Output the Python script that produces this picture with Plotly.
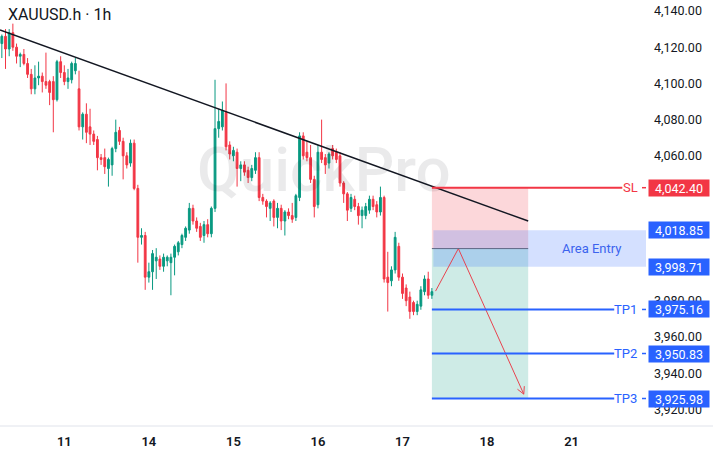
import math
import plotly.graph_objects as go

# ---------------- data ----------------
opens = [4122, 4126, 4119, 4128, 4120, 4115, 4116, 4111, 4105, 4097,
         4103, 4104, 4101, 4101, 4101, 4091, 4112, 4106, 4101, 4102,
         4107, 4097, 4076, 4083, 4076, 4072, 4069, 4059, 4059, 4053,
         4055, 4064, 4074, 4068, 4060, 4056, 4067, 4042, 4015, 4016,
         3993, 3996, 4002, 4003, 3999, 4002, 4001, 4004, 4007, 4011,
         4015, 4019, 4031, 4024, 4021, 4016, 4022, 4017, 4031, 4075,
         4076, 4084, 4066, 4060, 4062, 4053, 4055, 4052, 4048, 4052,
         4059, 4037, 4035, 4031, 4035, 4026, 4031, 4024, 4029, 4027,
         4026, 4037, 4071, 4062, 4059, 4047, 4033, 4062, 4059, 4056,
         4064, 4062, 4060, 4045, 4039, 4031, 4036, 4032, 4027, 4027,
         4030, 4036, 4033, 4029, 4037, 3993, 3991, 3997, 4010, 3993,
         3987, 3982, 3979, 3974, 3977, 3985, 3992, 3983]
highs = [4127, 4130, 4130, 4133, 4122, 4117, 4119, 4114, 4108, 4110,
         4112, 4106, 4117, 4102, 4104, 4113, 4115, 4110, 4108, 4112,
         4114, 4107, 4084, 4089, 4086, 4074, 4071, 4061, 4064, 4059,
         4065, 4080, 4076, 4070, 4062, 4069, 4069, 4044, 4020, 4018,
         4001, 4008, 4009, 4005, 4006, 4005, 4006, 4011, 4013, 4017,
         4021, 4034, 4033, 4026, 4023, 4024, 4025, 4032, 4102, 4086,
         4090, 4100, 4068, 4065, 4064, 4057, 4057, 4054, 4055, 4062,
         4062, 4039, 4036, 4035, 4036, 4034, 4033, 4030, 4031, 4034,
         4039, 4073, 4073, 4068, 4066, 4049, 4066, 4080, 4061, 4062,
         4066, 4064, 4062, 4046, 4040, 4039, 4038, 4034, 4032, 4034,
         4038, 4038, 4035, 4043, 4038, 4007, 3999, 4018, 4012, 3995,
         3989, 3985, 3980, 3980, 3988, 3994, 3996, 3987]
lows = [4114, 4108, 4115, 4118, 4111, 4109, 4110, 4103, 4094, 4094,
        4099, 4095, 4097, 4088, 4073, 4090, 4103, 4099, 4097, 4100,
        4105, 4074, 4069, 4067, 4066, 4066, 4052, 4055, 4050, 4043,
        4049, 4062, 4066, 4047, 4053, 4054, 4041, 4001, 4011, 3986,
        3990, 3986, 3992, 3997, 3996, 3999, 3983, 3994, 4005, 4009,
        4013, 4017, 4022, 4018, 4013, 4012, 4015, 4015, 4029, 4070,
        4074, 4063, 4058, 4057, 4043, 4046, 4049, 4045, 4046, 4050,
        4035, 4033, 4026, 4024, 4021, 4020, 4019, 4016, 4025, 4023,
        4024, 4035, 4058, 4057, 4045, 4026, 4031, 4056, 4050, 4053,
        4058, 4056, 4043, 4034, 4024, 4029, 4030, 4022, 4020, 4025,
        4028, 4030, 4026, 4027, 3990, 3974, 3988, 3995, 3991, 3981,
        3977, 3970, 3972, 3972, 3975, 3983, 3981, 3981]
closes = [4126, 4119, 4128, 4120, 4115, 4116, 4111, 4105, 4097, 4103,
          4104, 4101, 4099, 4095, 4091, 4112, 4106, 4101, 4103, 4111,
          4111, 4076, 4083, 4073, 4072, 4068, 4059, 4058, 4054, 4058,
          4064, 4073, 4068, 4060, 4055, 4067, 4042, 4015, 4016, 3993,
          3996, 4006, 4004, 3999, 4004, 4004, 4004, 4010, 4012, 4016,
          4020, 4031, 4024, 4020, 4015, 4022, 4017, 4031, 4075, 4079,
          4085, 4065, 4061, 4063, 4053, 4055, 4051, 4048, 4053, 4059,
          4037, 4035, 4032, 4034, 4026, 4031, 4024, 4029, 4027, 4025,
          4038, 4071, 4060, 4059, 4047, 4032, 4062, 4058, 4055, 4061,
          4060, 4058, 4045, 4039, 4030, 4037, 4032, 4027, 4030, 4032,
          4036, 4032, 4029, 4037, 3992, 3990, 3997, 4015, 3993, 3984,
          3980, 3974, 3974, 3978, 3986, 3992, 3983, 3985]
bars = list(range(len(opens)))

day_ticks = [17, 40, 63, 86, 109, 132, 155]
day_labels = ["11", "14", "15", "16", "17", "18", "21"]

price_ticks = [4140, 4120, 4100, 4080, 4060, 3980, 3960, 3940, 3920]

sl_price = 4042.40
entry_hi = 4018.85
entry_lo = 3998.71
entry_mid = (entry_hi + entry_lo) / 2
tp_names = ["TP1", "TP2", "TP3"]
tp_prices = [3975.16, 3950.83, 3925.98]

trend_x = [-0.5, 143.2]
trend_y = [4129.5, 4024.0]

path_x = [118.0, 124.2, 142.0]
path_y = [3985.3, entry_mid, 3928.4]

# ---------------- layout constants ----------------
W, H = 713, 455
ML, MR, MT, MB = 0, 67, 0, 29
PW, PH = W - ML - MR, H - MT - MB
X_MIN, X_MAX = -0.5, 175.25
Y_MIN, Y_MAX = 3910.8, 4146.06
px_bar = PW / (X_MAX - X_MIN)
px_price = PH / (Y_MAX - Y_MIN)

box_x0, box_x1 = 117.0, 143.2
band_x0 = 117.4
sl_line_end = 168.8
tp_line_end = 166.6

RED = "#f23645"
BLUE = "#2962ff"
GREEN = "#089981"
TXT = "#131722"
FONT = "Roboto"

fig = go.Figure()

# watermark (behind candles)
fig.add_trace(go.Scatter(
    x=[87.6], y=[4049.4], mode="text", text=["QuickPro"],
    textfont=dict(family=FONT, size=62, color="rgba(19,23,34,0.09)", weight=500),
    hoverinfo="skip", showlegend=False))

fig.add_trace(go.Candlestick(
    x=bars, open=opens, high=highs, low=lows, close=closes,
    increasing=dict(line=dict(color=GREEN, width=1), fillcolor=GREEN),
    decreasing=dict(line=dict(color=RED, width=1), fillcolor=RED),
    whiskerwidth=0, hoverinfo="skip", showlegend=False))

# trend line
fig.add_trace(go.Scatter(x=trend_x, y=trend_y, mode="lines",
                         line=dict(color=TXT, width=1.5),
                         hoverinfo="skip", showlegend=False))

# projected path
fig.add_trace(go.Scatter(x=path_x, y=path_y, mode="lines",
                         line=dict(color="#e8434f", width=1),
                         hoverinfo="skip", showlegend=False))
# arrowhead (open V) computed in pixel space
dx = (path_x[-1] - path_x[-2]) * px_bar
dy = (path_y[-1] - path_y[-2]) * px_price
L = math.hypot(dx, dy)
bx, by = -dx / L, -dy / L
for ang in (math.radians(28), -math.radians(28)):
    rx = bx * math.cos(ang) - by * math.sin(ang)
    ry = bx * math.sin(ang) + by * math.cos(ang)
    fig.add_trace(go.Scatter(
        x=[path_x[-1] + rx * 8 / px_bar, path_x[-1]],
        y=[path_y[-1] + ry * 8 / px_price, path_y[-1]],
        mode="lines", line=dict(color="#e8434f", width=1),
        hoverinfo="skip", showlegend=False))

shapes = []
# risk (pink) and reward (green) zones
shapes.append(dict(type="rect", xref="x", yref="y", x0=box_x0, x1=box_x1,
                   y0=entry_mid, y1=sl_price, fillcolor="rgba(242,54,69,0.2)",
                   line=dict(width=0), layer="below"))
shapes.append(dict(type="rect", xref="x", yref="y", x0=box_x0, x1=box_x1,
                   y0=tp_prices[-1], y1=entry_mid, fillcolor="rgba(8,153,129,0.2)",
                   line=dict(width=0), layer="below"))
# entry band
shapes.append(dict(type="rect", xref="x", yref="y", x0=band_x0, x1=X_MAX,
                   y0=entry_lo, y1=entry_hi, fillcolor="rgba(41,98,255,0.2)",
                   line=dict(width=0), layer="below"))
# entry line
shapes.append(dict(type="line", xref="x", yref="y", x0=box_x0, x1=box_x1,
                   y0=entry_mid, y1=entry_mid, line=dict(color="#5f6785", width=1)))
# SL line
shapes.append(dict(type="line", xref="x", yref="y", x0=box_x0, x1=sl_line_end,
                   y0=sl_price, y1=sl_price, line=dict(color=RED, width=2)))
shapes.append(dict(type="line", xref="paper", yref="y", x0=642 / PW, x1=1.0,
                   y0=sl_price, y1=sl_price, line=dict(color=RED, width=1.5)))
for p in tp_prices:
    shapes.append(dict(type="line", xref="x", yref="y", x0=box_x0, x1=tp_line_end,
                       y0=p, y1=p, line=dict(color=BLUE, width=2)))
    shapes.append(dict(type="line", xref="paper", yref="y", x0=642 / PW, x1=1.0,
                       y0=p, y1=p, line=dict(color=BLUE, width=1.5)))
# bottom axis line across the full width
shapes.append(dict(type="line", xref="paper", yref="paper", x0=0, x1=W / PW,
                   y0=0, y1=0, line=dict(color="#e0e3eb", width=1)))

annotations = []


def price_label(val, color):
    return dict(xref="paper", yref="y", x=1.0, xshift=2, xanchor="left",
                y=val, yanchor="middle", text=f"{val:,.2f}", showarrow=False,
                font=dict(family=FONT, size=12.5, color="white"),
                bgcolor=color, width=60, height=16, borderpad=0, align="center")


annotations.append(price_label(sl_price, RED))
annotations.append(price_label(entry_hi, BLUE))
annotations.append(price_label(entry_lo, BLUE))
for p in tp_prices:
    annotations.append(price_label(p, BLUE))

annotations.append(dict(xref="paper", yref="y", x=640 / PW, xanchor="right",
                        y=sl_price, yanchor="middle", text="SL", showarrow=False,
                        font=dict(family=FONT, size=13, color=RED)))
for n, p in zip(tp_names, tp_prices):
    annotations.append(dict(xref="paper", yref="y", x=639 / PW, xanchor="right",
                            y=p, yanchor="middle", text=n, showarrow=False,
                            font=dict(family=FONT, size=13, color=BLUE)))
annotations.append(dict(xref="x", yref="y", x=160.3, y=entry_mid,
                        text="Area Entry", showarrow=False,
                        font=dict(family=FONT, size=13, color="#3b63ee")))
annotations.append(dict(xref="paper", yref="paper", x=0, xshift=6, xanchor="left",
                        y=1 - 14 / PH, yanchor="middle", text="XAUUSD.h · 1h",
                        showarrow=False, font=dict(family=FONT, size=16, color=TXT)))

fig.update_layout(
    width=W, height=H,
    margin=dict(l=ML, r=MR, t=MT, b=MB, pad=0),
    paper_bgcolor="white", plot_bgcolor="white",
    showlegend=False,
    shapes=shapes, annotations=annotations,
    xaxis=dict(range=[X_MIN, X_MAX], tickvals=day_ticks, ticktext=day_labels,
               showgrid=False, zeroline=False, showline=False, ticks="",
               tickfont=dict(family=FONT, size=13, color=TXT, weight=600),
               ticklabelstandoff=6,
               rangeslider=dict(visible=False), fixedrange=True),
    yaxis=dict(range=[Y_MIN, Y_MAX], side="right", tickvals=price_ticks,
               ticktext=[f"{v:,.2f}" for v in price_ticks],
               showgrid=False, zeroline=False, showline=False, ticks="",
               tickfont=dict(family=FONT, size=12.5, color=TXT),
               ticklabelstandoff=7, fixedrange=True),
)

fig.write_html("out.html")
